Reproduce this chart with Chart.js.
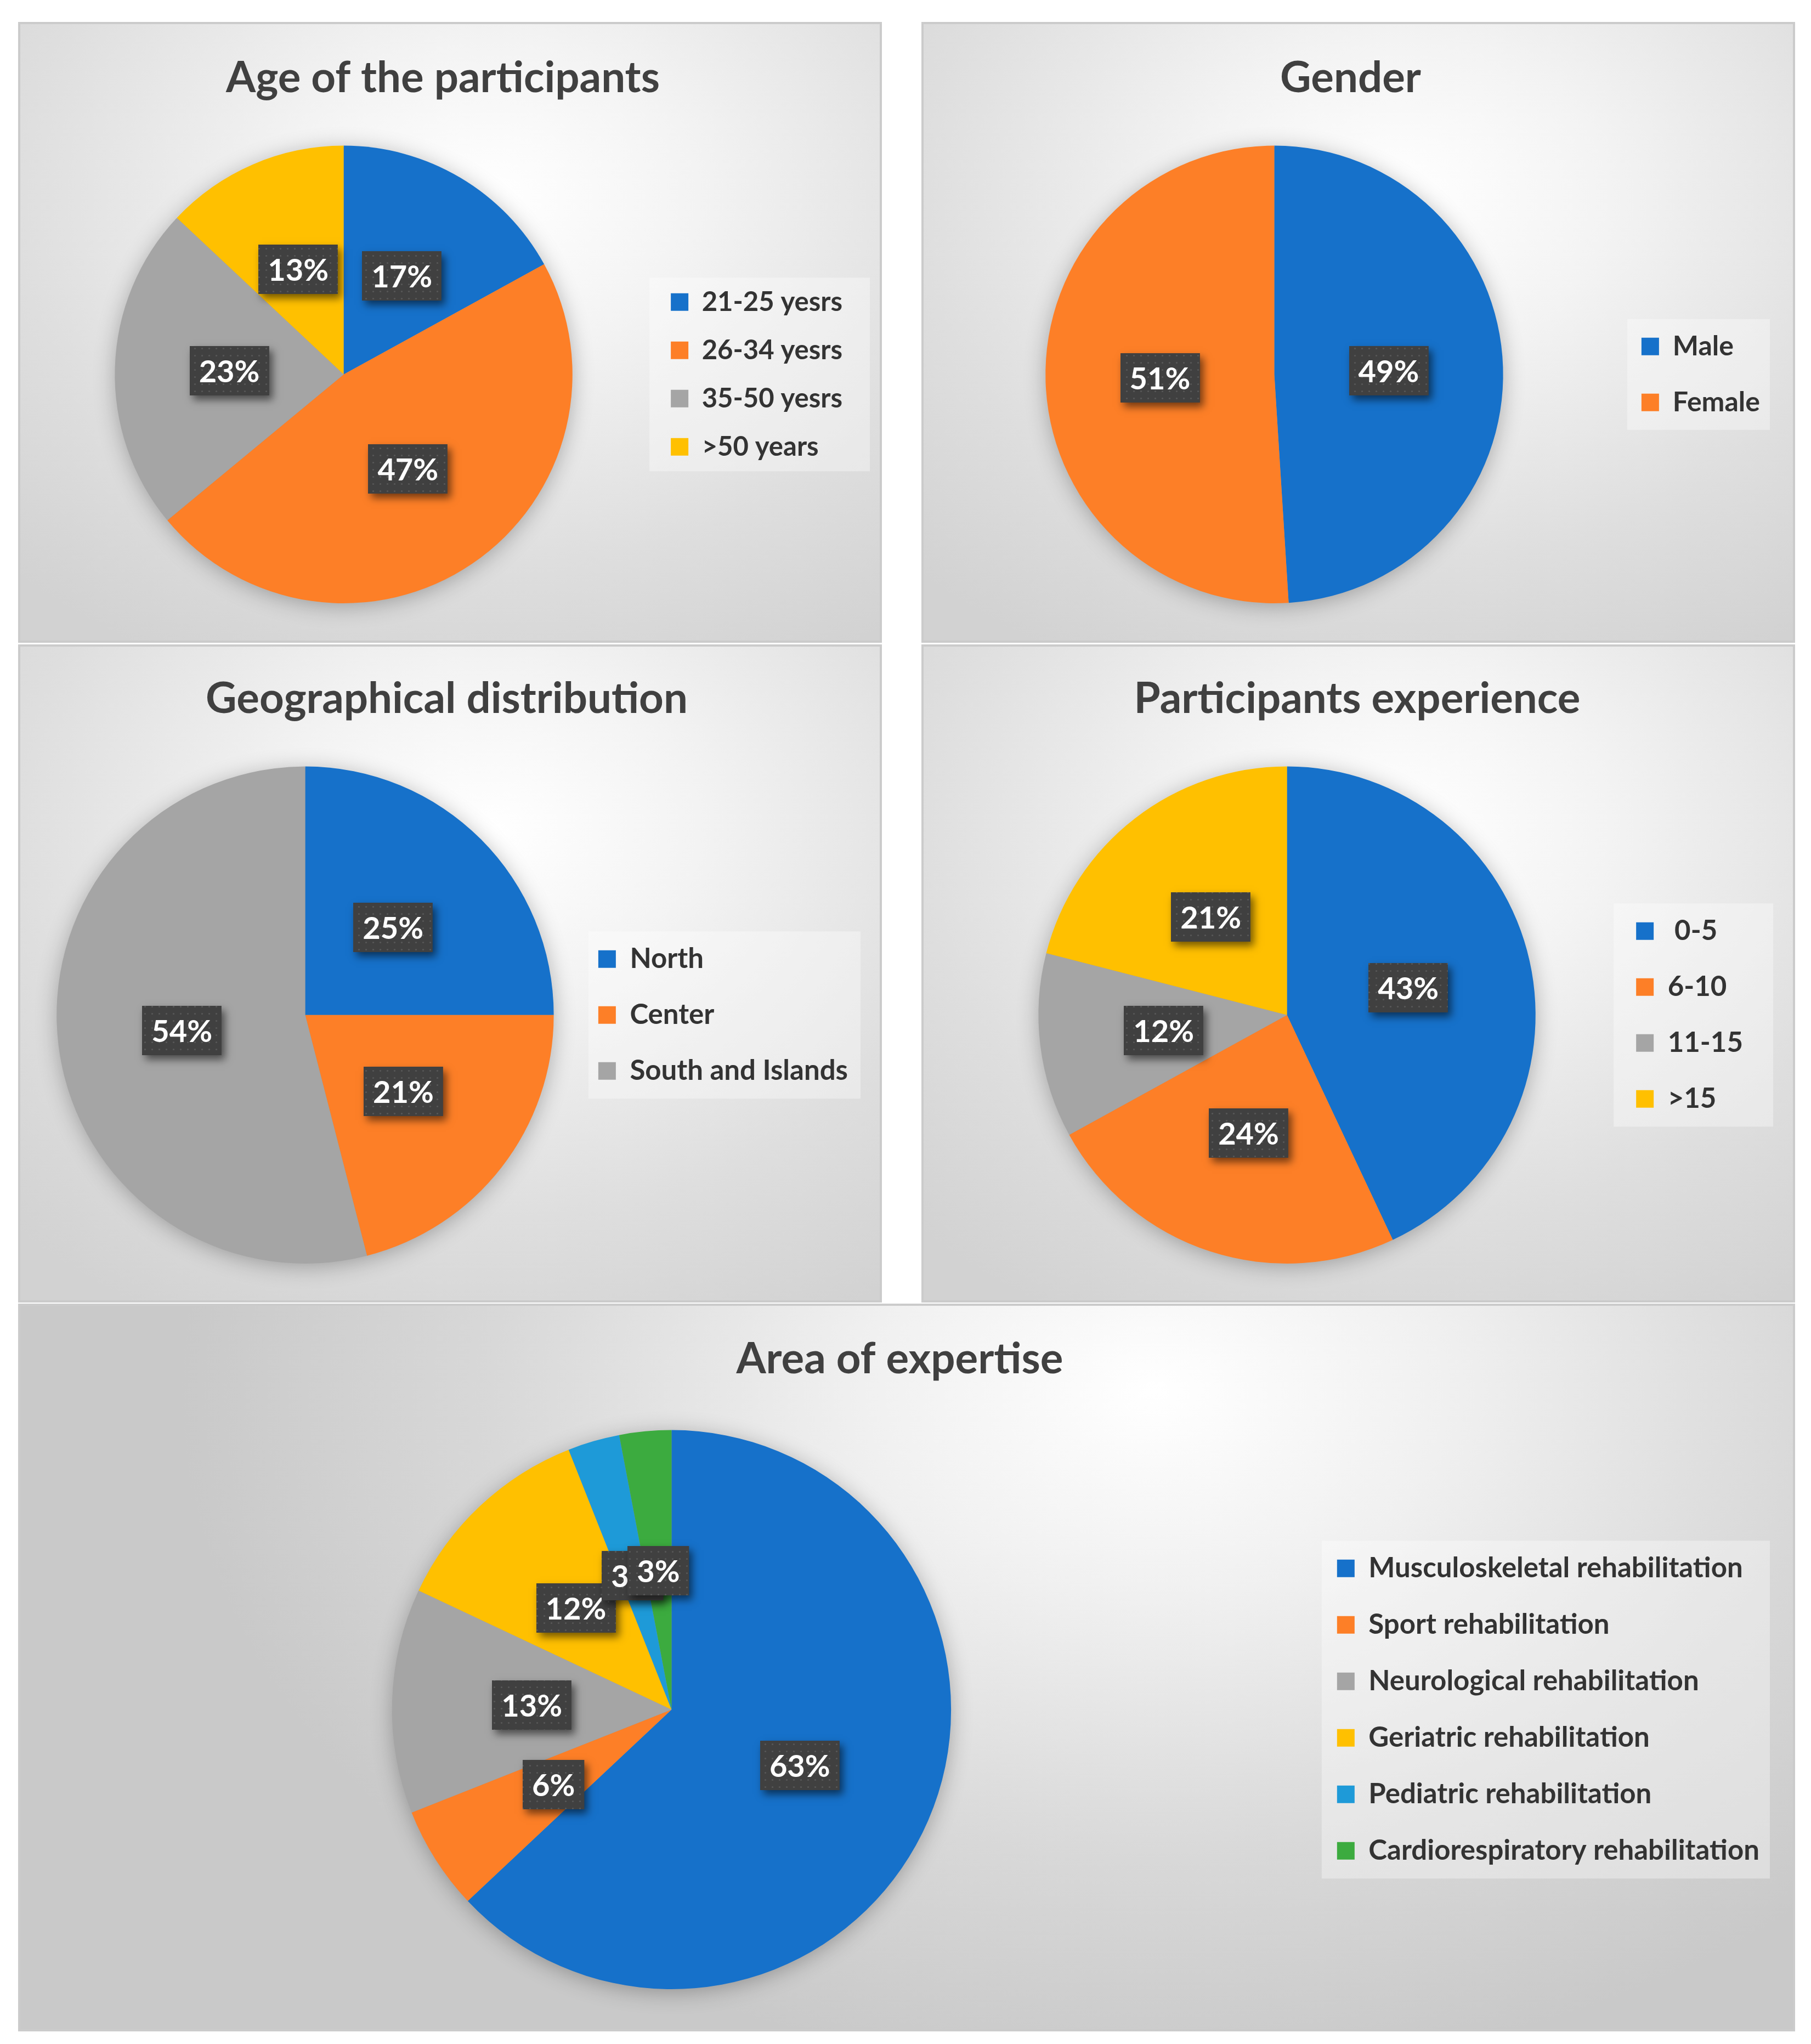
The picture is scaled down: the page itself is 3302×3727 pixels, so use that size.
<!DOCTYPE html>
<html>
<head>
<meta charset="utf-8">
<script src="https://cdn.jsdelivr.net/npm/chart.js@4.4.0/dist/chart.umd.min.js"></script>
<style>
    body { margin: 0; background: #fff; width: 3302px; height: 3727px; position: relative; overflow: hidden; }
    .panel { position: absolute; box-sizing: border-box; border: 4px solid #cbcbcb; }
    .panel canvas { display: block; }
    .small { background: radial-gradient(ellipse 80% 85% at 55% 28%, #ffffff 0%, #f3f3f3 30%, #dedede 70%, #d2d2d2 100%); }
    .wide { background: radial-gradient(ellipse 55% 95% at 64% 12%, #ffffff 0%, #f0f0f0 30%, #d8d8d8 68%, #c9c9c9 100%); }
</style>
</head>
<body>
<div class="panel small" style="left:33px;top:40px;width:1575px;height:1132px"><canvas id="ageChart" width="1567" height="1124"></canvas></div>
<div class="panel small" style="left:1680px;top:40px;width:1593px;height:1132px"><canvas id="genderChart" width="1585" height="1124"></canvas></div>
<div class="panel small" style="left:33px;top:1175px;width:1575px;height:1200px"><canvas id="geoChart" width="1567" height="1192"></canvas></div>
<div class="panel small" style="left:1680px;top:1175px;width:1593px;height:1200px"><canvas id="expChart" width="1585" height="1192"></canvas></div>
<div class="panel wide" style="left:33px;top:2377px;width:3240px;height:1327px"><canvas id="areaChart" width="3232" height="1319"></canvas></div>

<script>
    // 데이터
    const ageLabels = ['21-25 yesrs', '26-34 yesrs', '35-50 yesrs', '>50 years'];
    const ageValues = [17, 47, 23, 13];

    const genderLabels = ['Male', 'Female'];
    const genderValues = [49, 51];

    const geoLabels = ['North', 'Center', 'South and Islands'];
    const geoValues = [25, 21, 54];

    const expLabels = [' 0-5', '6-10', '11-15', '>15'];
    const expValues = [43, 24, 12, 21];

    const areaLabels = ['Musculoskeletal rehabilitation', 'Sport rehabilitation', 'Neurological rehabilitation',
        'Geriatric rehabilitation', 'Pediatric rehabilitation', 'Cardiorespiratory rehabilitation'];
    const areaValues = [63, 6, 13, 12, 3, 3];

    const sliceColors = ['#1671ca', '#fd7f27', '#a5a5a5', '#ffc000', '#1e9ad8', '#3cab3f'];

    Chart.defaults.font.family = 'Lato';
    Chart.defaults.font.weight = 'bold';

    // 라벨 박스 안의 점 무늬
    const dotCanvas = document.createElement('canvas');
    dotCanvas.width = 13; dotCanvas.height = 13;
    const dctx = dotCanvas.getContext('2d');
    dctx.fillStyle = 'rgba(255,255,255,0.13)';
    dctx.beginPath(); dctx.arc(6.5, 6.5, 1.6, 0, Math.PI * 2); dctx.fill();

    // 파이 그림자
    const pieShadow = {
        id: 'pieShadow',
        beforeDatasetsDraw(chart) {
            const arc = chart.getDatasetMeta(0).data[0];
            if (!arc) return;
            const ctx = chart.ctx;
            ctx.save();
            ctx.shadowColor = 'rgba(0,0,0,0.3)';
            ctx.shadowBlur = 40;
            ctx.shadowOffsetY = 6;
            ctx.fillStyle = '#999';
            ctx.beginPath();
            ctx.arc(arc.x, arc.y, arc.outerRadius - 2, 0, Math.PI * 2);
            ctx.fill();
            ctx.restore();
        }
    };

    // 범례 배경
    const legendBg = {
        id: 'legendBg',
        beforeDraw(chart, args, opts) {
            const lg = chart.legend;
            if (!lg || !lg.legendHitBoxes || !lg.legendHitBoxes.length) return;
            const hb = lg.legendHitBoxes;
            const first = hb[0], last = hb[hb.length - 1];
            const ctx = chart.ctx;
            ctx.save();
            ctx.fillStyle = 'rgba(255,255,255,0.35)';
            const x0 = lg.left + opts.insetLeft, x1 = Math.min(lg.right + opts.extraRight, chart.width - 6);
            const y0 = first.top - opts.padY, y1 = last.top + last.height + opts.padY;
            ctx.fillRect(x0, y0, x1 - x0, y1 - y0);
            ctx.restore();
        }
    };

    // 퍼센트 라벨 (어두운 박스)
    const boxLabels = {
        id: 'boxLabels',
        afterDatasetsDraw(chart) {
            const ctx = chart.ctx;
            const meta = chart.getDatasetMeta(0);
            const vals = chart.data.datasets[0].data;
            const pattern = ctx.createPattern(dotCanvas, 'repeat');
            ctx.save();
            ctx.font = 'bold 56px Lato';
            meta.data.forEach((arc, i) => {
                const p = arc.tooltipPosition();
                const txt = vals[i] + '%';
                const w = ctx.measureText(txt).width + 34;
                const h = 90;
                const x = Math.round(p.x - w / 2), y = Math.round(p.y - h / 2);
                ctx.save();
                ctx.shadowColor = 'rgba(0,0,0,0.55)';
                ctx.shadowBlur = 14;
                ctx.shadowOffsetX = 6;
                ctx.shadowOffsetY = 8;
                ctx.fillStyle = '#404040';
                ctx.fillRect(x, y, w, h);
                ctx.restore();
                ctx.fillStyle = pattern;
                ctx.fillRect(x, y, w, h);
                ctx.fillStyle = '#ffffff';
                ctx.textAlign = 'center';
                ctx.textBaseline = 'middle';
                ctx.fillText(txt, p.x, p.y + 3);
            });
            ctx.restore();
        }
    };

    function createPieChart(id, title, labels, values, cfg) {
        const ctx = document.getElementById(id).getContext('2d');
        return new Chart(ctx, {
            type: 'pie',
            data: {
                labels: labels,
                datasets: [{
                    data: values,
                    backgroundColor: sliceColors.slice(0, values.length),
                    borderWidth: 0
                }]
            },
            options: {
                responsive: false,
                animation: false,
                layout: { padding: cfg.padding },
                plugins: {
                    title: {
                        display: true,
                        text: title,
                        color: '#404040',
                        font: { size: 78, weight: 'bold' },
                        padding: cfg.titlePad
                    },
                    legend: {
                        position: 'right',
                        fullSize: false,
                        labels: {
                            color: '#333333',
                            boxWidth: 32,
                            boxHeight: 32,
                            padding: cfg.legendPad,
                            font: { size: cfg.legendFont, weight: 'bold' }
                        }
                    },
                    legendBg: { insetLeft: cfg.bgLeft, extraRight: cfg.bgRight, padY: cfg.bgPadY },
                    tooltip: { enabled: false }
                }
            },
            plugins: [legendBg, pieShadow, boxLabels]
        });
    }

    createPieChart('ageChart', 'Age of the participants', ageLabels, ageValues, {
        padding: { left: 32, right: 58, top: 0, bottom: 68 },
        titlePad: { top: 52, bottom: 76 },
        legendPad: 39, legendFont: 49, bgLeft: 0, bgRight: 40, bgPadY: 20
    });

    createPieChart('genderChart', 'Gender', genderLabels, genderValues, {
        padding: { left: 22, right: 50, top: 0, bottom: 68 },
        titlePad: { top: 52, bottom: 76 },
        legendPad: 52, legendFont: 50, bgLeft: 26, bgRight: 8, bgPadY: 25
    });

    createPieChart('geoChart', 'Geographical distribution', geoLabels, geoValues, {
        padding: { left: 36, right: 48, top: 0, bottom: 67 },
        titlePad: { top: 49, bottom: 76 },
        legendPad: 51, legendFont: 51, bgLeft: 33, bgRight: 13, bgPadY: 25
    });

    createPieChart('expChart', 'Participants experience', expLabels, expValues, {
        padding: { left: 77, right: 81, top: 0, bottom: 67 },
        titlePad: { top: 49, bottom: 76 },
        legendPad: 51, legendFont: 51, bgLeft: 10, bgRight: 45, bgPadY: 25
    });

    createPieChart('areaChart', 'Area of expertise', areaLabels, areaValues, {
        padding: { left: 26, right: 51, top: 0, bottom: 73 },
        titlePad: { top: 51, bottom: 82 },
        legendPad: 52, legendFont: 51, bgLeft: 24, bgRight: 9, bgPadY: 25
    });
</script>
</body>
</html>
